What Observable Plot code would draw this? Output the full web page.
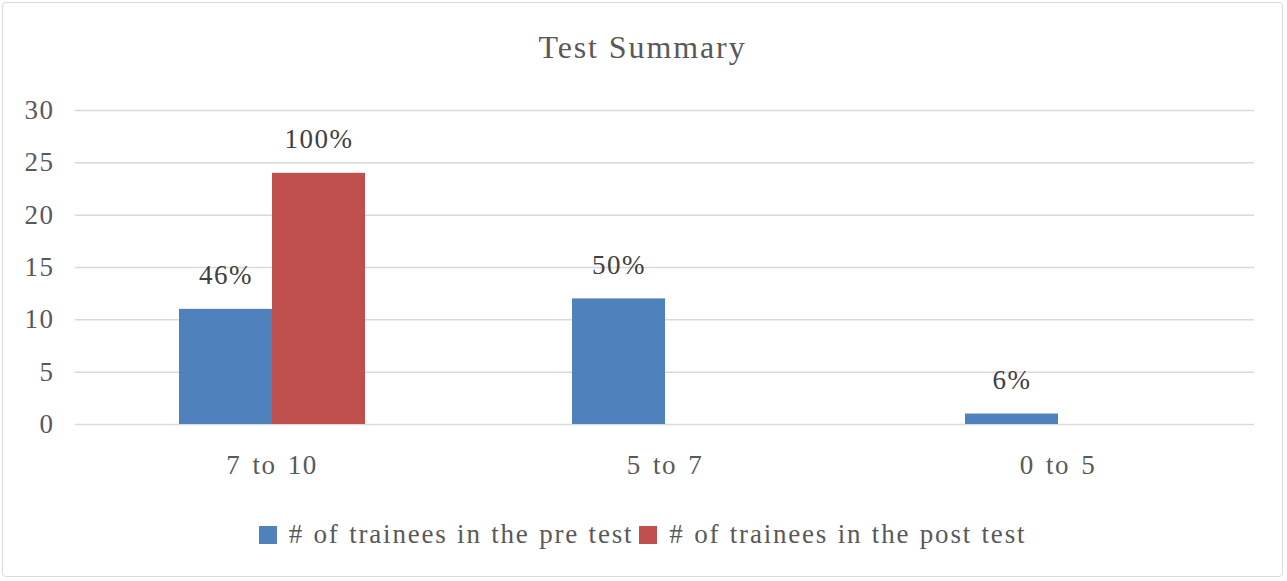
<!DOCTYPE html>
<html>
<head>
<meta charset="utf-8">
<script src="https://cdn.jsdelivr.net/npm/d3@7"></script>
<script src="https://cdn.jsdelivr.net/npm/@observablehq/plot@0.6"></script>
<style>
  html, body { margin: 0; padding: 0; background: #fff; }
  #frame {
    position: relative; width: 1281px; height: 575px; margin: 2px;
    border: 1px solid #d9d9d9; border-radius: 4px; box-sizing: border-box;
    font-family: "Liberation Serif", "DejaVu Serif", serif; color: #595959;
  }
  #title { height: 83px; text-align: center; font-size: 32px; line-height: 88px; letter-spacing: 1.9px; }
  #legend { display: flex; justify-content: center; align-items: center; margin-top: 33px; font-size: 27px; letter-spacing: 1.8px; word-spacing: 1px; }
  .item { display: flex; align-items: center; margin: 0 3px; }
  .sw { width: 18px; height: 18px; margin-right: 12px; }
  svg { display: block; }
  svg text { font-family: "Liberation Serif", "DejaVu Serif", serif !important; letter-spacing: 1.5px; word-spacing: 3px; }
</style>
</head>
<body>
<div id="frame">
  <div id="title">Test Summary</div>
  <div id="plot"></div>
  <div id="legend"></div>
</div>
<script>
const categories = ["7 to 10", "5 to 7", "0 to 5"];
const seriesNames = ["# of trainees in the pre test", "# of trainees in the post test"];
const colors = ["#4F81BD", "#C0504D"];
const preValues = [11, 12, 1];
const postValues = [24, 0, 0];
const preLabels = ["46%", "50%", "6%"];
const postLabels = ["100%", null, null];
const yTicks = [0, 5, 10, 15, 20, 25, 30];

const data = [];
categories.forEach((c, i) => {
  data.push({cat: c, series: seriesNames[0], value: preValues[i], label: preLabels[i]});
  data.push({cat: c, series: seriesNames[1], value: postValues[i], label: postLabels[i]});
});

const serif = '"Liberation Serif", "DejaVu Serif", serif';
const chart = Plot.plot({
  width: 1279,
  height: 400,
  marginTop: 24,
  marginBottom: 62,
  marginLeft: 72,
  marginRight: 28,
  style: { fontFamily: serif, fontSize: "27px", color: "#595959", background: "white" },
  fx: { domain: categories, padding: 0, label: null, axis: "bottom", tickSize: 0, tickPadding: 30 },
  x: { domain: seriesNames, axis: null, paddingInner: 0, paddingOuter: 1.1 },
  y: { domain: [0, 30], ticks: yTicks, label: null, tickSize: 0, tickPadding: 21 },
  color: { domain: seriesNames, range: colors },
  marks: [
    Plot.gridY(yTicks, { stroke: "#d9d9d9", strokeOpacity: 1, strokeWidth: 1.5 }),
    Plot.barY(data.filter(d => d.value > 0), { fx: "cat", x: "series", y: "value", fill: "series", inset: 0 }),
    Plot.text(data.filter(d => d.label), { fx: "cat", x: "series", y: "value", text: "label", dy: -34, fill: "#404040", fontSize: 27, fontFamily: serif })
  ]
});
document.getElementById("plot").appendChild(chart);

const legend = document.getElementById("legend");
seriesNames.forEach((s, i) => {
  const item = document.createElement("div");
  item.className = "item";
  const sw = document.createElement("div");
  sw.className = "sw";
  sw.style.background = colors[i];
  const t = document.createElement("span");
  t.textContent = s;
  item.appendChild(sw); item.appendChild(t);
  legend.appendChild(item);
});
</script>
</body>
</html>
